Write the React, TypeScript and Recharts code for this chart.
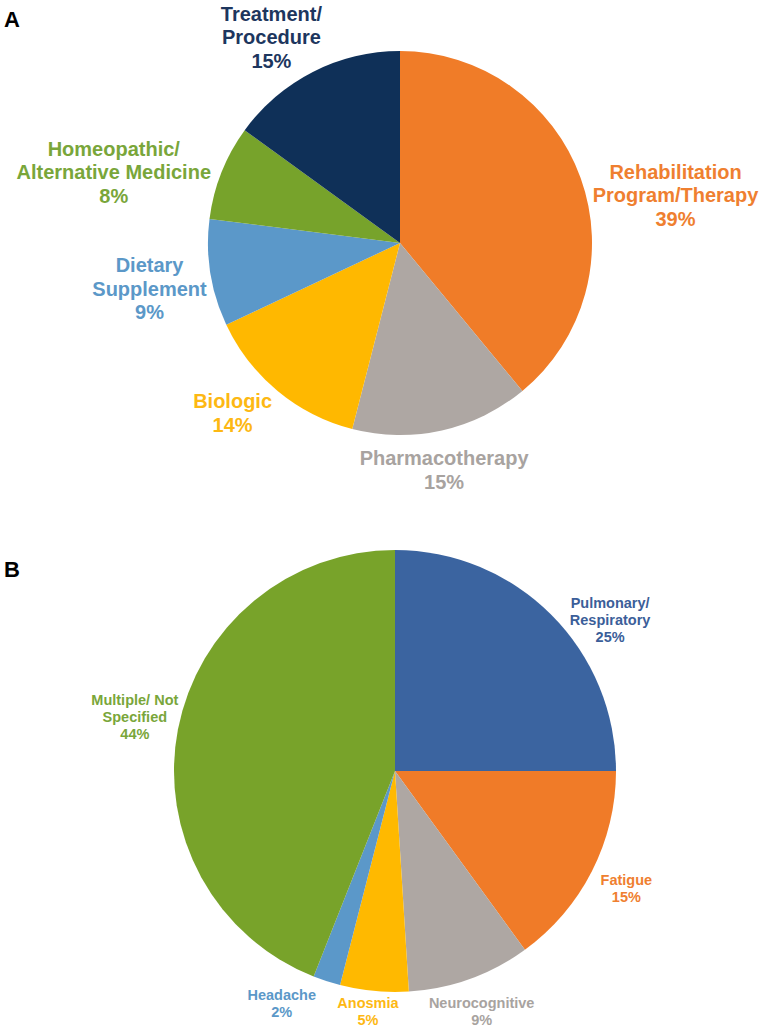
import React from 'react'
import { PieChart, Pie, Cell } from 'recharts'

// panel A — type of intervention
const namesA = [
  'Rehabilitation\nProgram/Therapy',
  'Pharmacotherapy',
  'Biologic',
  'Dietary\nSupplement',
  'Homeopathic/\nAlternative Medicine',
  'Treatment/\nProcedure',
]
const valuesA = [39, 15, 14, 9, 8, 15]
const fillA = ['#F07C28', '#AEA7A3', '#FFB800', '#5B98C9', '#77A32B', '#0F3058']
const textA = ['#EF7F30', '#A8A3A0', '#FDB813', '#5B98C8', '#79A63A', '#1D365E']
// label tweaks off the slice middle: degrees, then px along the ray (excel moved them a bit)
const nudgeA = [-10, -1.6, -5, 1.4, 7.7, 5]
const pushA = [0, 0, 2, 0, 0, -6]

// panel B — targeted symptom
const namesB = [
  'Pulmonary/\nRespiratory',
  'Fatigue',
  'Neurocognitive',
  'Anosmia',
  'Headache',
  'Multiple/ Not\nSpecified',
]
const valuesB = [25, 15, 9, 5, 2, 44]
const fillB = ['#3B64A0', '#F07B28', '#AEA7A3', '#FFB900', '#5B98C9', '#78A32A']
const textB = ['#3B5E99', '#EF7F30', '#A8A3A0', '#FDB813', '#5B98C8', '#79A63A']
const nudgeB = [-10, 0, 0, -1, -8, -1]
const pushB = [-7, 7, 0, 0, 6, -4]

const dataA = namesA.map((name, i) => ({ name, value: valuesA[i] }))
const dataB = namesB.map((name, i) => ({ name, value: valuesB[i] }))

const FONT = '"Liberation Sans", Arial, sans-serif'
const RAD = Math.PI / 180

let ctx: CanvasRenderingContext2D | null = null
function measure(text: string, font: string) {
  if (!ctx) ctx = document.createElement('canvas').getContext('2d')
  if (!ctx) return text.length * 10
  ctx.font = font
  return ctx.measureText(text).width
}

function makeLabel(
  fontSize: number,
  lineHeight: number,
  colors: string[],
  nudge: number[],
  push: number[],
  gap: number,
) {
  return (props: any) => {
    const { cx, cy, midAngle, outerRadius, index, payload } = props
    const lines = [...String(payload.name).split('\n'), `${payload.value}%`]
    const font = `bold ${fontSize}px ${FONT}`
    const w = Math.max(...lines.map((l) => measure(l, font)))
    const h = lines.length * lineHeight
    const ang = (midAngle + (nudge[index] ?? 0)) * RAD
    const c = Math.cos(-ang)
    const s = Math.sin(-ang)
    const d =
      outerRadius + gap + (push[index] ?? 0) + (Math.abs(c) * w) / 2 + (Math.abs(s) * h) / 2
    const x = cx + d * c
    const top = cy + d * s - h / 2
    return (
      <text
        key={`lbl-${index}`}
        x={x}
        y={top}
        textAnchor="middle"
        fill={colors[index]}
        fontSize={fontSize}
        fontWeight="bold"
        fontFamily={FONT}
      >
        {lines.map((l, i) => (
          <tspan key={i} x={x} y={top + lineHeight * (i + 0.5) + fontSize * 0.35}>
            {l}
          </tspan>
        ))}
      </text>
    )
  }
}

const letterStyle: React.CSSProperties = {
  position: 'absolute',
  left: 4,
  fontFamily: FONT,
  fontWeight: 'bold',
  fontSize: 22,
  color: '#000',
}

export default function App() {
  return (
    <div style={{ position: 'absolute', left: 0, top: 0, width: 771, height: 1032, background: '#fff' }}>
      <PieChart width={771} height={1032} margin={{ top: 0, right: 0, bottom: 0, left: 0 }}>
        <Pie
          data={dataA}
          dataKey="value"
          nameKey="name"
          cx={400}
          cy={243}
          outerRadius={192}
          startAngle={90}
          endAngle={-270}
          stroke="none"
          labelLine={false}
          label={makeLabel(20, 23.5, textA, nudgeA, pushA, 0)}
          isAnimationActive={false}
        >
          {dataA.map((d, i) => (
            <Cell key={d.name} fill={fillA[i]} />
          ))}
        </Pie>
        <Pie
          data={dataB}
          dataKey="value"
          nameKey="name"
          cx={395}
          cy={771}
          outerRadius={221}
          startAngle={90}
          endAngle={-270}
          stroke="none"
          labelLine={false}
          label={makeLabel(14.5, 17, textB, nudgeB, pushB, 1)}
          isAnimationActive={false}
        >
          {dataB.map((d, i) => (
            <Cell key={d.name} fill={fillB[i]} />
          ))}
        </Pie>
      </PieChart>
      <div style={{ ...letterStyle, top: 7 }}>A</div>
      <div style={{ ...letterStyle, top: 557 }}>B</div>
    </div>
  )
}
